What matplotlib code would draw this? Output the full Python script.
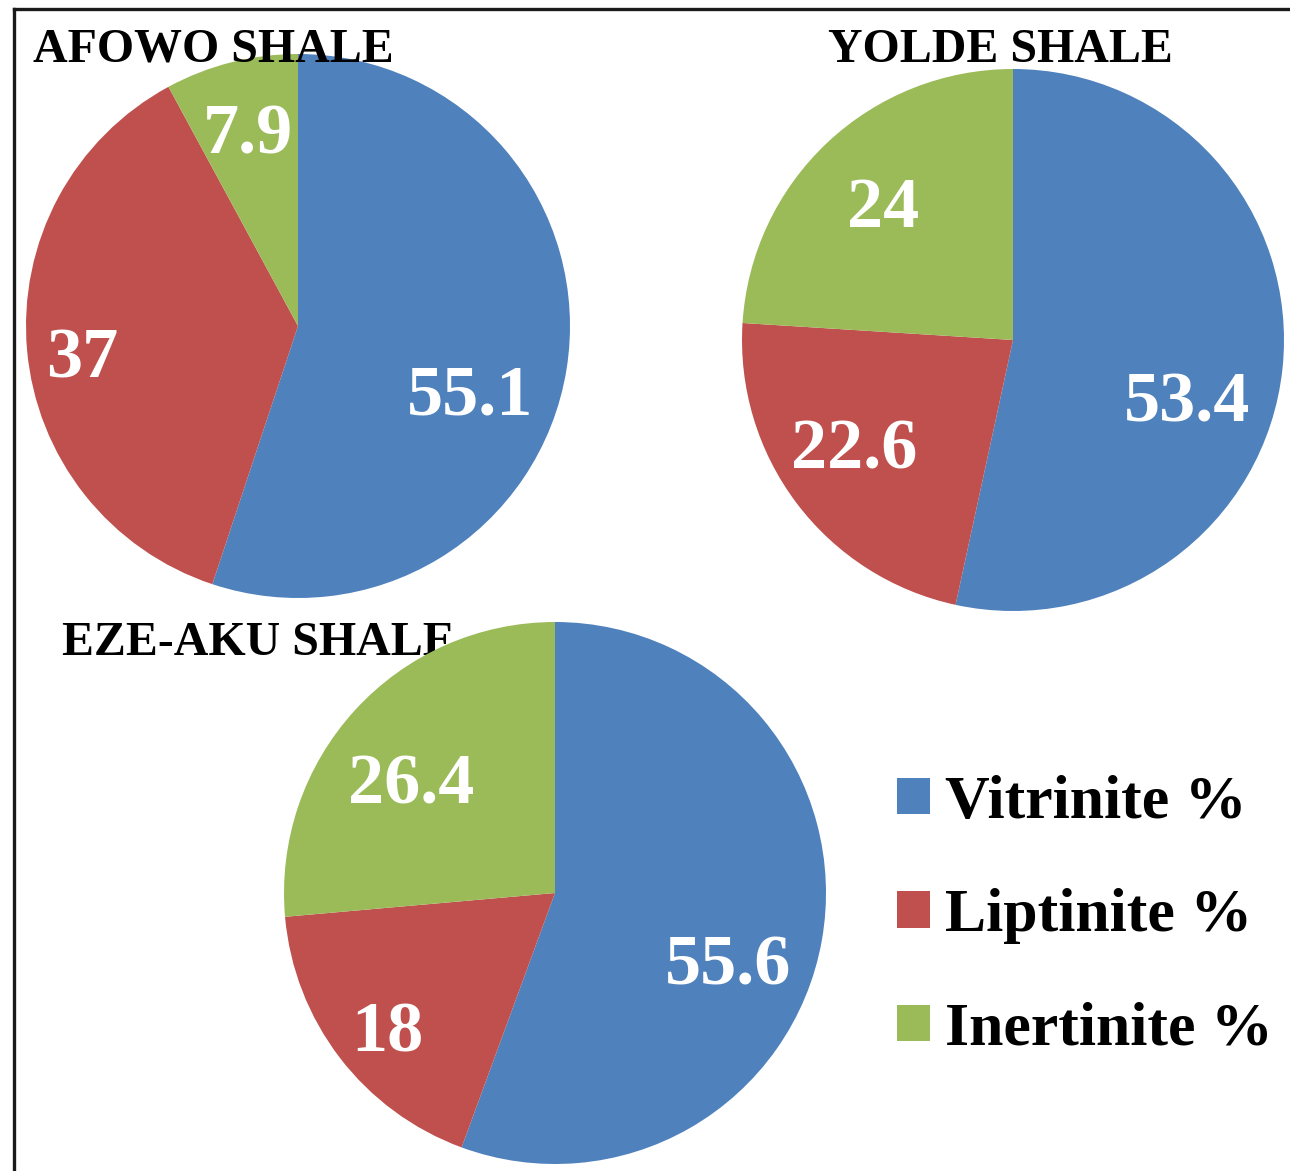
import numpy as np
import matplotlib
matplotlib.use('Agg')
import matplotlib.pyplot as plt
from matplotlib.patches import Rectangle
from matplotlib.lines import Line2D

plt.rcParams['font.family'] = ['Liberation Serif', 'DejaVu Serif']
plt.rcParams['font.weight'] = 'bold'

# maceral composition of the three shales (%)
macerals = ['Vitrinite %', 'Liptinite %', 'Inertinite %']
colors = ['#4F81BD', '#C0504D', '#9BBB59']

shales = ['AFOWO SHALE', 'YOLDE SHALE', 'EZE-AKU SHALE']
afowo = [55.1, 37, 7.9]
yolde = [53.4, 22.6, 24]
eze_aku = [55.6, 18, 26.4]
values = [afowo, yolde, eze_aku]

W, H = 1290, 1171
fig = plt.figure(figsize=(W / 100, H / 100), dpi=100)

# pie centre / radius in pixels, per-wedge label (radius fraction, angle shift),
# title baseline position and whether the title sits above the pie
centres = [(298, 326), (1013, 340), (555, 893)]
radii = [272, 271, 271]
label_pos = [
    [(0.675, -11), (0.80, 2), (0.75, 0)],
    [(0.675, -12), (0.70, -4), (0.70, 0)],
    [(0.685, -11), (0.79, 1), (0.68, 4)],
]
title_xy = [(33, 62), (828, 62), (62, 655)]
title_z = [5, 5, -1]

for name, vals, (cx, cy), r, lp, (tx, ty), tz in zip(
        shales, values, centres, radii, label_pos, title_xy, title_z):
    ax = fig.add_axes([(cx - r) / W, 1 - (cy + r) / H, 2 * r / W, 2 * r / H])
    wedges, _ = ax.pie(vals, colors=colors, startangle=90, counterclock=False,
                       wedgeprops=dict(linewidth=0))
    ax.set_xlim(-1, 1)
    ax.set_ylim(-1, 1)
    for w, v, (d, shift) in zip(wedges, vals, lp):
        ang = np.deg2rad((w.theta1 + w.theta2) / 2 + shift)
        ax.text(d * np.cos(ang), d * np.sin(ang), f'{v:g}', color='white',
                fontsize=52, fontweight='bold', ha='center', va='center_baseline')
    fig.text(tx / W, 1 - ty / H, name, fontsize=34.5, fontweight='bold',
             ha='left', va='baseline', zorder=tz)

handles = [Rectangle((0, 0), 1, 1, facecolor=c, edgecolor='none') for c in colors]
fig.legend(handles, macerals, loc='upper left', bbox_to_anchor=(897 / W, 1 - 775 / H),
           frameon=False, prop=dict(weight='bold', size=44.5),
           handlelength=0.53, handleheight=0.53, handletextpad=0.25,
           labelspacing=0.93, borderpad=0, borderaxespad=0)

# frame lines on the left and top edges
fig.add_artist(Line2D([14 / W, 14 / W], [0, 1 - 9 / H], color='#1a1a1a', lw=2.4))
fig.add_artist(Line2D([14 / W, 1], [1 - 9 / H, 1 - 9 / H], color='#1a1a1a', lw=2.4))

fig.savefig('out.png', dpi=100, facecolor='white')
